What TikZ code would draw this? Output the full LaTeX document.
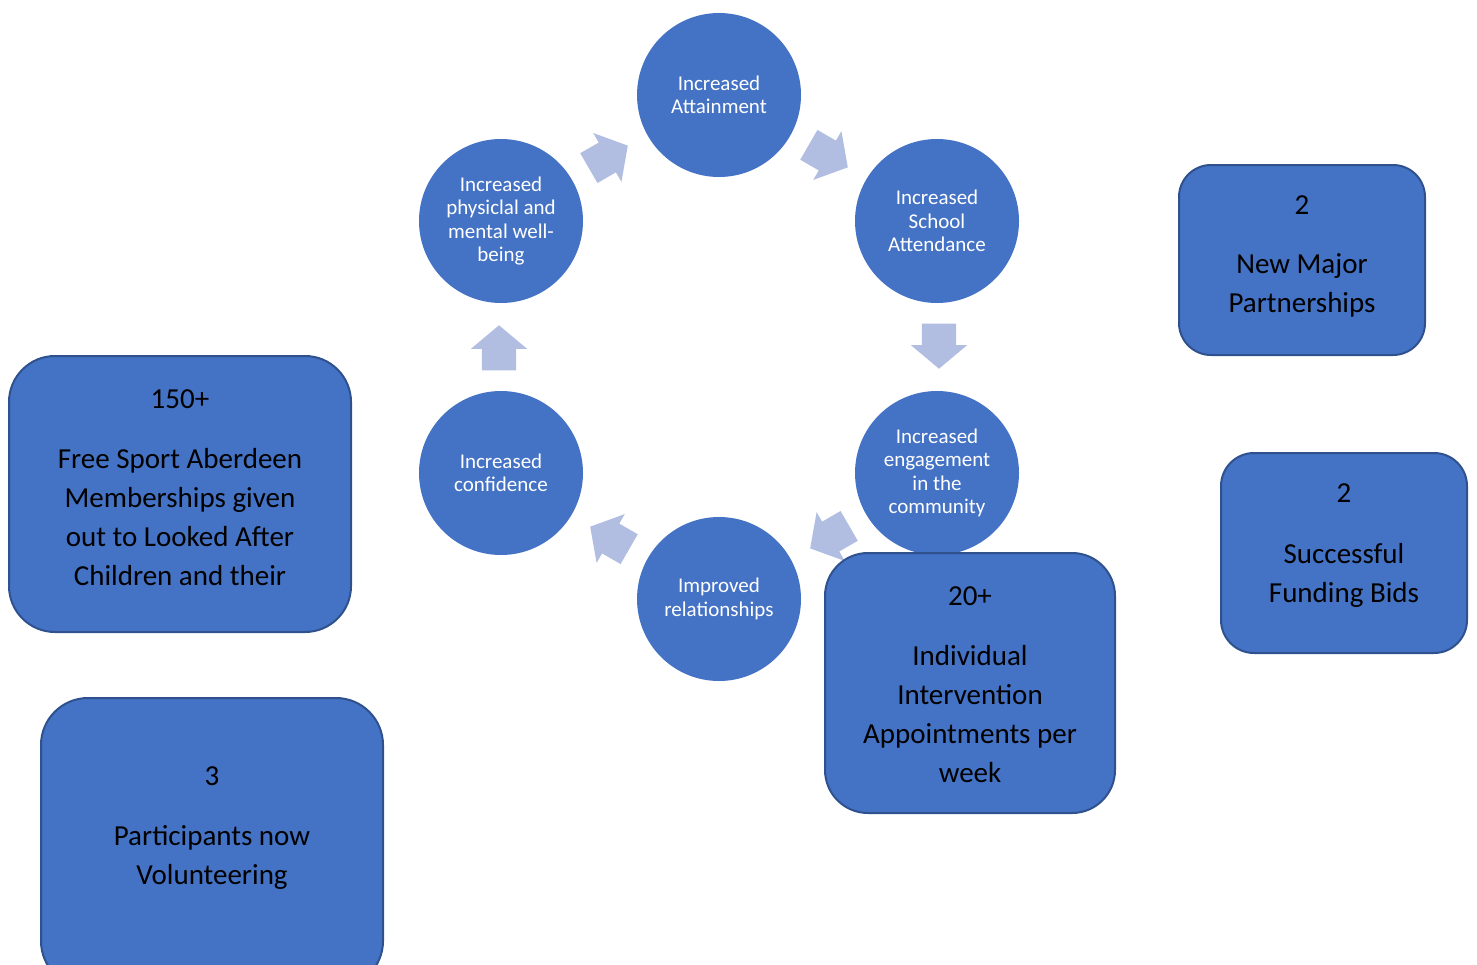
\documentclass[tikz,border=0pt]{standalone}
\usepackage{fontspec}
\setmainfont{Carlito}
\usetikzlibrary{positioning,shapes.arrows}
\definecolor{circleblue}{HTML}{4472C4}
\definecolor{edgeblue}{HTML}{2F528F}
\definecolor{arrowblue}{RGB}{177,190,225}
\begin{document}
\begin{tikzpicture}[x=1pt, y=1pt,
    stage/.style={circle, fill=circleblue, minimum size=164pt, inner sep=0pt,
        text=white, align=center, font=\fontsize{21}{23.5}\selectfont},
    turn/.style={single arrow, fill=arrowblue, minimum height=45pt, inner xsep=0pt, inner ysep=17pt,
        single arrow head extend=11pt, single arrow tip angle=100},
    stat/.style={draw=edgeblue, line width=2pt, fill=circleblue},
    stattext/.style={align=center, inner sep=0pt, font=\fontsize{29}{39}\selectfont}]
        \useasboundingbox (0,0) rectangle (1477,-964);
        % Kreislauf
        \node[stage] (attain) at (719,-95) {Increased\\Attainment};
        \node[stage] (school) at (937,-221) {Increased\\School\\Attendance};
        \node[stage] (engage) at (937,-473) {Increased\\engagement\\in the\\community};
        \node[stage] (relate) at (719,-599) {Improved\\relationships};
        \node[stage] (confid) at (501,-473) {Increased\\confidence};
        \node[stage] (health) at (501,-221) {Increased\\physiclal and\\mental well-\\being};
        % Pfeile
        \foreach \a in {120, 60, 0, -60, -120, 180}
        {
            \node[turn, rotate=\a-90] (turn\a) at ([shift={(\a:220)}, shift={(\a+90:8)}]719,-347) {};
        }
        % Kaesten
        \node[stat, minimum width=342pt, minimum height=276pt, rounded corners=46pt] (free) at (180,-494) {};
        \node[stattext, below=34pt of free.north] (freetext)
            {150+\\[21pt]Free Sport Aberdeen\\Memberships given\\out to Looked After\\Children and their};
        \node[stat, minimum width=342pt, minimum height=290pt, rounded corners=47pt] (vol) at (212,-843) {};
        \node[stattext, below=69pt of vol.north] (voltext)
            {3\\[21pt]Participants now\\Volunteering};
        \node[stat, minimum width=290pt, minimum height=260pt, rounded corners=43pt] (appts) at (970,-683) {};
        \node[stattext, below=34pt of appts.north] (apptstext)
            {20+\\[21pt]Individual\\Intervention\\Appointments per\\week};
        \node[stat, minimum width=246pt, minimum height=190pt, rounded corners=32pt] (partners) at (1302,-260) {};
        \node[stattext, below=31pt of partners.north] (partnerstext)
            {2\\[20pt]New Major\\Partnerships};
        \node[stat, minimum width=246pt, minimum height=200pt, rounded corners=33pt] (bids) at (1344,-553) {};
        \node[stattext, below=31pt of bids.north] (bidstext)
            {2\\[22pt]Successful\\Funding Bids};
\end{tikzpicture}
\end{document}
